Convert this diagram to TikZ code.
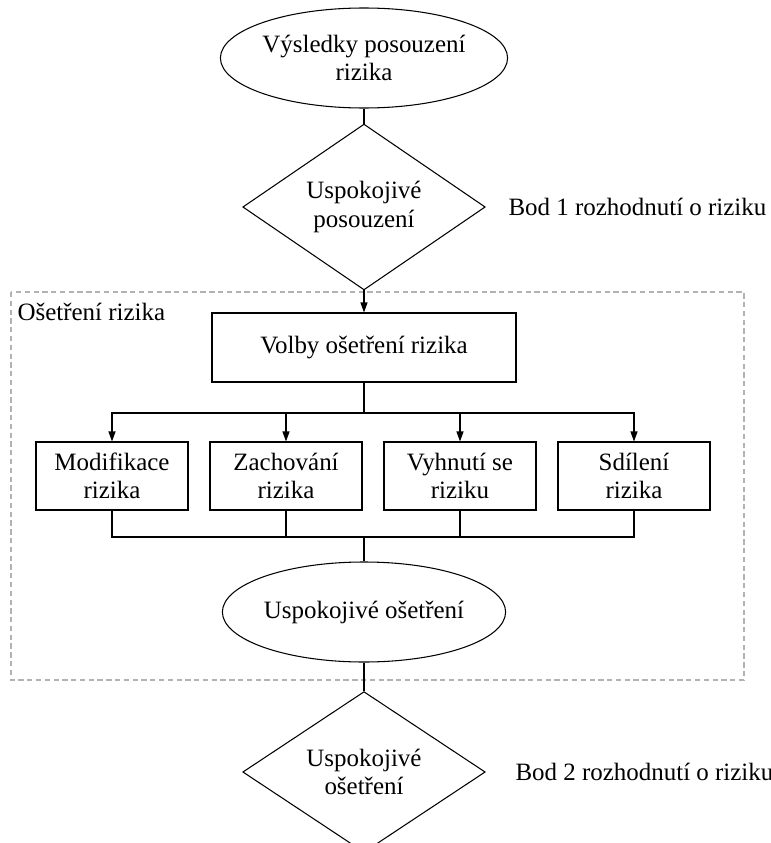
\documentclass[tikz,border=0pt]{standalone}
\usepackage{fontspec}
\setmainfont{Liberation Serif}
\usetikzlibrary{shapes.geometric,arrows.meta}
\begin{document}
\begin{tikzpicture}[font=\fontsize{14.2pt}{16pt}\selectfont,line width=0.6pt,
    ovalbox/.style={draw,ellipse,minimum width=5.44cm,minimum height=2cm,inner sep=0pt,align=center},
    rozhod/.style={draw,diamond,minimum width=4.85cm,minimum height=2.82cm,inner sep=0pt,align=center},
    volbabox/.style={draw,rectangle,minimum width=3.04cm,minimum height=1.36cm,inner sep=0pt,align=center},
    popis/.style={inner sep=0pt,anchor=west},
    sipka/.style={-{Triangle[length=2mm,width=1.4mm]}}]
  \useasboundingbox (0,0) rectangle (15.42,-16.86);
  \draw[gray!60,dash pattern=on 3pt off 2pt] (0.22,-5.84) rectangle (14.88,-13.6);
  \node[popis] (oseth) at (0.34,-6.24) {Ošetření rizika};
  \node[ovalbox] (vysl) at (7.28,-1.16) {Výsledky posouzení\\rizika};
  \node[rozhod] (usp1) at (7.28,-4.14) {Uspokojivé\\posouzení};
  \node[popis] (bod1) at (10.16,-4.14) {Bod 1 rozhodnutí o riziku};
  \node[draw,minimum width=6.08cm,minimum height=1.38cm] (volby) at (7.28,-6.95) {Volby ošetření rizika};
  \coordinate (rozv) at (7.28,-8.26);
  \coordinate (spoj) at (7.28,-10.74);
  \node[volbabox] (modif) at (2.24,-9.52) {Modifikace\\rizika};
  \node[volbabox] (zach) at (5.72,-9.52) {Zachování\\rizika};
  \node[volbabox] (vyhn) at (9.2,-9.52) {Vyhnutí se\\riziku};
  \node[volbabox] (sdil) at (12.68,-9.52) {Sdílení\\rizika};
  \node[ovalbox] (usposet) at (7.28,-12.24) {Uspokojivé ošetření};
  \node[rozhod] (usp2) at (7.28,-15.44) {Uspokojivé\\ošetření};
  \node[popis] (bod2) at (10.3,-15.44) {Bod 2 rozhodnutí o riziku};
  \draw (vysl) -- (usp1);
  \draw[sipka] (usp1) -- (volby);
  \draw (volby) -- (rozv);
  \foreach \b in {modif,zach,vyhn,sdil}{
    \draw[sipka] (rozv) -| (\b.north);
    \draw (\b.south) |- (spoj);
  }
  \draw (spoj) -- (usposet);
  \draw (usposet) -- (usp2);
\end{tikzpicture}
\end{document}
